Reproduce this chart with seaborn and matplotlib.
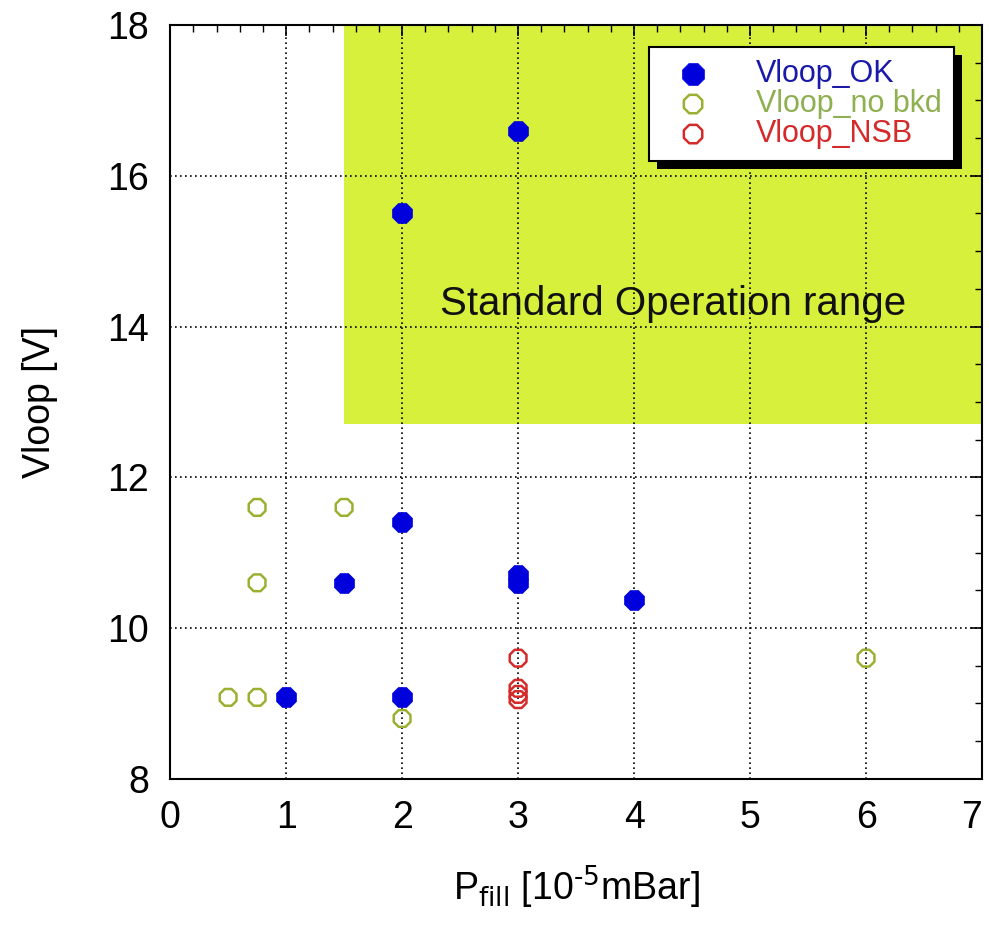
import matplotlib
matplotlib.use("Agg")
import matplotlib.pyplot as plt
import seaborn as sns
import pandas as pd
from matplotlib.ticker import MultipleLocator, FuncFormatter
from matplotlib.patches import Rectangle

# data
ok_x = [3, 2, 2, 1.5, 3, 3, 4, 1, 2]
ok_y = [16.6, 15.5, 11.4, 10.6, 10.7, 10.6, 10.37, 9.08, 9.08]
nobkd_x = [0.75, 1.5, 0.75, 0.5, 0.75, 2, 6]
nobkd_y = [11.6, 11.6, 10.6, 9.08, 9.08, 8.8, 9.6]
nsb_x = [3, 3, 3, 3]
nsb_y = [9.6, 9.2, 9.12, 9.05]

groups = ["Vloop_OK", "Vloop_no bkd", "Vloop_NSB"]
colors = {"Vloop_OK": "#0000dd", "Vloop_no bkd": "#9bb030", "Vloop_NSB": "#d42a2a"}
text_colors = {"Vloop_OK": "#1a1aaa", "Vloop_no bkd": "#8fb050", "Vloop_NSB": "#d42a2a"}

df = pd.concat([
    pd.DataFrame({"p": ok_x, "v": ok_y, "set": groups[0]}),
    pd.DataFrame({"p": nobkd_x, "v": nobkd_y, "set": groups[1]}),
    pd.DataFrame({"p": nsb_x, "v": nsb_y, "set": groups[2]}),
])

sns.set_style("white")
plt.rcParams["font.family"] = ["Liberation Sans", "DejaVu Sans"]
plt.rcParams["mathtext.default"] = "regular"
plt.rcParams["text.color"] = "black"
plt.rcParams["axes.labelcolor"] = "black"

fig = plt.figure(figsize=(9.89, 9.26), dpi=100)
ax = fig.add_axes([0.172, 0.159, 0.821, 0.814])

# standard operation range box
ax.fill_between([1.5, 7], 12.7, 18, color="#d6f03c", linewidth=0, zorder=0.2)
ax.text(4.34, 14.15, "Standard Operation range", fontsize=29, ha="center", va="baseline",
        color="#111111", zorder=0.3)

for g in groups:
    sub = df[df["set"] == g]
    if g == "Vloop_OK":
        sns.scatterplot(data=sub, x="p", y="v", ax=ax, marker="8", s=240,
                        color=colors[g], edgecolor=colors[g], linewidth=0.5, label=g, zorder=3)
    else:
        sns.scatterplot(data=sub, x="p", y="v", ax=ax, marker="8", s=170,
                        facecolor="none", edgecolor=colors[g], linewidth=1.8, label=g, zorder=3)

ax.set_xlim(0, 7)
ax.set_ylim(8, 18)
ax.xaxis.set_major_locator(MultipleLocator(1))
ax.xaxis.set_minor_locator(MultipleLocator(0.2))
ax.yaxis.set_major_locator(MultipleLocator(2))
ax.yaxis.set_minor_locator(MultipleLocator(0.5))
# the "7" label at the right edge is drawn separately so it stays inside the figure
ax.xaxis.set_major_formatter(FuncFormatter(lambda v, pos: "" if v > 6.5 else f"{v:g}"))
ax.text(7, -0.0285, "7", transform=ax.get_xaxis_transform(), ha="right", va="top",
        fontsize=27, color="black")
ax.tick_params(which="both", direction="in", top=True, right=True, colors="black", labelsize=27)
ax.tick_params(which="major", length=8, width=1.2, pad=15)
ax.tick_params(which="minor", length=5, width=1.0)
ax.grid(True, which="major", color="black", linestyle=(0, (1, 2)), linewidth=1.2)
ax.set_axisbelow(True)
for sp in ax.spines.values():
    sp.set_color("black")
    sp.set_linewidth(1.5)

ax.set_xlabel(r"P$_{\rm fill}$ [10$^{\text{-5}}$mBar]", fontsize=27, labelpad=20)
ax.set_ylabel("Vloop [V]", fontsize=27, labelpad=36)

leg = ax.legend(loc="upper right", bbox_to_anchor=(0.965, 0.971), frameon=True, fancybox=False,
                shadow=False, edgecolor="black", fontsize=22, markerscale=1.1,
                handletextpad=1.0, borderpad=0.4, labelspacing=0.0, handlelength=2.1, borderaxespad=0)
leg.get_frame().set_linewidth(1.5)
leg.get_frame().set_alpha(1)
for t, g in zip(leg.get_texts(), groups):
    t.set_color(text_colors[g])

# black drop shadow behind the legend box
fig.canvas.draw()
bb = leg.get_window_extent(fig.canvas.get_renderer())
inv = ax.transAxes.inverted()
(x0, y0), (x1, y1) = inv.transform([[bb.x0 + 8, bb.y0 - 8], [bb.x1 + 8, bb.y1 - 8]])
ax.add_patch(Rectangle((x0, y0), x1 - x0, y1 - y0, transform=ax.transAxes,
                       facecolor="black", edgecolor="none", zorder=4.9))

plt.savefig("out.png", dpi=100)
plt.close()
